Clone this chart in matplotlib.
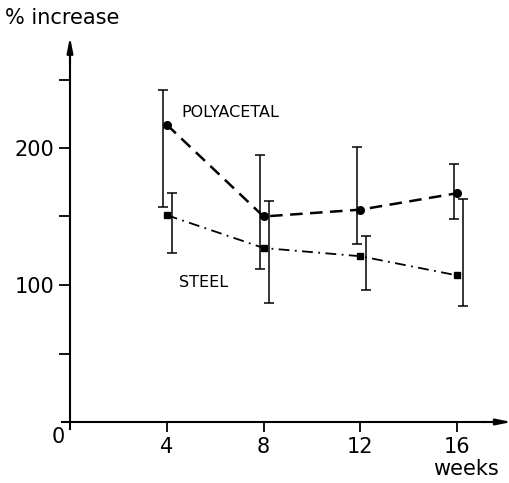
import matplotlib
matplotlib.use("Agg")
import matplotlib.pyplot as plt
import numpy as np

# ---- data ----
weeks = [4, 8, 12, 16]
poly_mean = [217, 150, 155, 167]
poly_low = [157, 112, 130, 148]
poly_high = [242, 195, 201, 188]
steel_mean = [151, 127, 121, 107]
steel_low = [123, 87, 96, 85]
steel_high = [167, 161, 136, 163]
y_ticks = [50, 100, 150, 200, 250]
y_labels = ["", "100", "", "200", ""]
x_ticks = [4, 8, 12, 16]
x_labels = ["4", "8", "12", "16"]

plt.rcParams['font.family'] = ['DejaVu Sans']

W, H = 509, 483
fig = plt.figure(figsize=(W / 100, H / 100), dpi=100)
# data x=0 at px 70, 24.2 px/week; y=0 at px 422 (from top), 1.37 px/unit
x0, xs = 70.0, 24.2
y0, ys = 422.0, 1.37
xmin, xmax = -0.5, 18.3
ymin, ymax = -6, 282
left = (x0 + xmin * xs) / W
width = (xmax - xmin) * xs / W
bottom = (H - (y0 - ymin * ys)) / H
height = (ymax - ymin) * ys / H
ax = fig.add_axes([left, bottom, width, height])
ax.set_xlim(xmin, xmax)
ax.set_ylim(ymin, ymax)

ax.patch.set_alpha(0)
for s in ['top', 'right']:
    ax.spines[s].set_visible(False)
ax.spines['left'].set_position(('data', 0))
ax.spines['bottom'].set_position(('data', 0))
ax.spines['left'].set_bounds(-5, 268)
ax.spines['bottom'].set_bounds(-0.35, 17.2)
ax.spines['left'].set_linewidth(1.5)
ax.spines['bottom'].set_linewidth(1.5)

# arrow heads
ax.annotate('', xy=(0, 281), xytext=(0, 262),
            arrowprops=dict(arrowstyle='-|>,head_length=0.9,head_width=0.18',
                            lw=1.5, color='k', shrinkA=0, shrinkB=0),
            annotation_clip=False)
ax.annotate('', xy=(18.25, 0), xytext=(17.0, 0),
            arrowprops=dict(arrowstyle='-|>,head_length=0.9,head_width=0.18',
                            lw=1.5, color='k', shrinkA=0, shrinkB=0),
            annotation_clip=False)

ax.set_yticks(y_ticks)
ax.set_yticklabels(y_labels, fontsize=15)
ax.set_xticks(x_ticks)
ax.set_xticklabels(x_labels, fontsize=15)
ax.tick_params(axis='y', direction='out', length=8, width=1.3, pad=3)
ax.tick_params(axis='x', direction='out', length=7, width=1.3, pad=4)

# error bars (slightly offset from the points as in the original drawing)
wk = np.array(weeks, dtype=float)
pm, pl, ph = map(np.array, (poly_mean, poly_low, poly_high))
sm, sl, sh = map(np.array, (steel_mean, steel_low, steel_high))
ax.errorbar(wk - 0.15, pm, yerr=[pm - pl, ph - pm], fmt='none', ecolor='k',
            elinewidth=1.1, capsize=3.8, capthick=1.1)
ax.errorbar(wk + 0.22, sm, yerr=[sm - sl, sh - sm], fmt='none', ecolor='k',
            elinewidth=1.1, capsize=3.8, capthick=1.1)

ax.plot(wk, pm, color='k', lw=1.8, ls=(0, (5, 3)), marker='o', ms=5.5)
ax.plot(wk, sm, color='k', lw=1.3, ls=(0, (6, 3, 1, 3)), marker='s', ms=5)

ax.text(4.6, 226, 'POLYACETAL', fontsize=11.5, va='center', ha='left')
ax.text(4.5, 101.5, 'STEEL', fontsize=11.5, va='center', ha='left')
ax.text(15.0, -34, 'weeks', fontsize=15, va='center', ha='left', clip_on=False)
ax.text(-0.5, -11, '0', fontsize=15, va='center', ha='center', clip_on=False)
fig.text(5 / W, 1 - 18 / H, '% increase', fontsize=15, va='center', ha='left')

fig.savefig('out.png', dpi=100)
